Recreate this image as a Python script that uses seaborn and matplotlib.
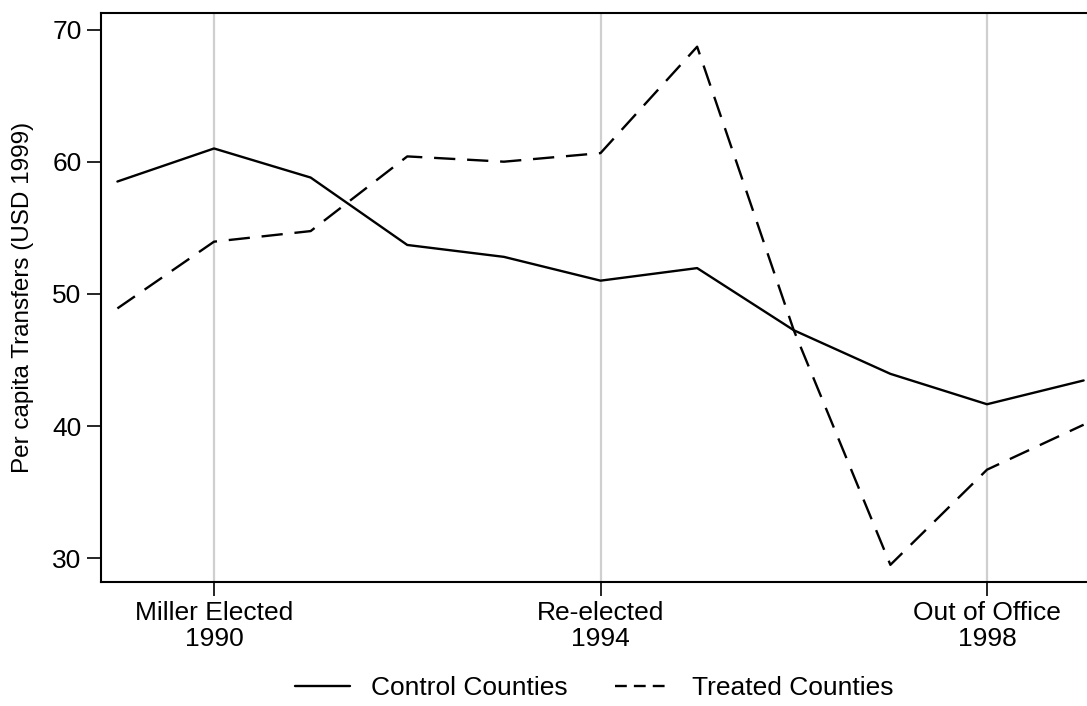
import matplotlib
matplotlib.use("Agg")
import matplotlib.pyplot as plt
import seaborn as sns
import pandas as pd
from matplotlib.lines import Line2D

years = [1989, 1990, 1991, 1992, 1993, 1994, 1995, 1996, 1997, 1998, 1999]
control = [58.5, 61.0, 58.8, 53.7, 52.8, 51.0, 51.95, 47.25, 43.95, 41.65, 43.45]
treated = [48.9, 53.95, 54.75, 60.4, 60.0, 60.65, 68.7, 47.25, 29.5, 36.7, 40.1]
series_names = ["Control Counties", "Treated Counties"]
xtick_years = [1990, 1994, 1998]
xtick_labels = ["Miller Elected\n1990", "Re-elected\n1994", "Out of Office\n1998"]
ytick_values = [30, 40, 50, 60, 70]
ylabel = "Per capita Transfers (USD 1999)"

df = pd.DataFrame({
    "year": years * 2,
    "value": control + treated,
    "group": [series_names[0]] * len(years) + [series_names[1]] * len(years),
})

sns.set_theme(style="white")
plt.rcParams["font.family"] = ["Liberation Sans", "DejaVu Sans"]
plt.rcParams["text.color"] = "black"
plt.rcParams["xtick.color"] = "black"
plt.rcParams["ytick.color"] = "black"
plt.rcParams["axes.labelcolor"] = "black"

fig = plt.figure(figsize=(10.87, 7.06), dpi=100)
ax = fig.add_axes([0.0929, 0.1756, 0.912, 0.806])

for xv in xtick_years:
    ax.axvline(xv, color="#cfcfcf", lw=1.6, zorder=0)

sns.lineplot(data=df, x="year", y="value", style="group",
             dashes={series_names[0]: "", series_names[1]: (9, 5)},
             color="black", lw=1.7, ax=ax, legend=False)

ax.set_xlim(1988.83, 1999.09)
ax.set_ylim(28.2, 71.25)
ax.set_xticks(xtick_years)
ax.set_xticklabels(xtick_labels, fontsize=19, linespacing=1.1)
ax.set_yticks(ytick_values)
ax.set_yticklabels([str(v) for v in ytick_values], fontsize=19)
ax.tick_params(axis="both", direction="out", length=10, width=1.2, color="black",
               bottom=True, left=True)
ax.tick_params(axis="x", pad=4)
ax.tick_params(axis="y", pad=4)
ax.set_xlabel("")
ax.set_ylabel(ylabel, fontsize=17.5, labelpad=13)
for s in ax.spines.values():
    s.set_color("black")
    s.set_linewidth(1.5)

handles = [Line2D([], [], color="black", lw=1.7),
           Line2D([], [], color="black", lw=1.7, linestyle=(0, (5, 3)))]
fig.legend(handles, series_names, loc="center", bbox_to_anchor=(0.5465, 0.025),
           ncol=2, frameon=False, fontsize=19, handlelength=2.1,
           columnspacing=1.8, handletextpad=0.8)

fig.savefig("out.png", dpi=100)
